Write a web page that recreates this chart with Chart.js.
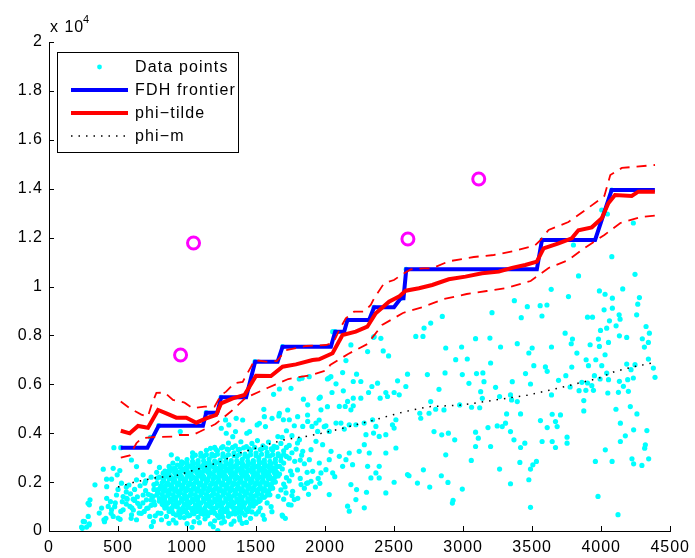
<!DOCTYPE html>
<html>
<head>
<meta charset="utf-8">
<script src="https://cdn.jsdelivr.net/npm/chart.js@4.4.1/dist/chart.umd.min.js"></script>
<style>
  body { margin: 0; background: #fff; }
</style>
</head>
<body>
<canvas id="frontier" width="695" height="558"></canvas>
<script>
// axis ticks
var xTicks = [0, 500, 1000, 1500, 2000, 2500, 3000, 3500, 4000, 4500];
var yTicks = [0, 2000, 4000, 6000, 8000, 10000, 12000, 14000, 16000, 18000, 20000];
var legendLabels = ['Data points', 'FDH frontier', 'phi\u2212tilde', 'phi\u2212m'];

// FDH frontier (step line)
var fdhX = [520, 713, 795, 1115, 1139, 1219, 1247, 1428, 1493, 1656, 1692, 2042, 2073, 2138, 2162, 2319, 2355, 2499, 2548, 2568, 2588, 3534, 3571, 3956, 4076, 4389];
var fdhY = [3407, 3407, 4307, 4307, 4838, 4838, 5468, 5468, 6924, 6924, 7538, 7538, 8151, 8151, 8630, 8630, 9149, 9149, 9517, 9517, 10703, 10703, 11902, 11902, 13947, 13947];

// phi-tilde estimate
var tildeX = [520, 585, 645, 717, 790, 850, 922, 995, 1067, 1139, 1211, 1247, 1331, 1416, 1452, 1500, 1608, 1692, 1789, 1909, 1957, 2054, 2126, 2222, 2306, 2367, 2463, 2535, 2584, 2680, 2776, 2896, 3017, 3137, 3258, 3354, 3450, 3534, 3583, 3691, 3787, 3835, 3932, 4004, 4052, 4100, 4221, 4269, 4389];
var tildeY = [4102, 3996, 4295, 4225, 4949, 4813, 4635, 4635, 4430, 4608, 4744, 5222, 5426, 5562, 5903, 6353, 6340, 6721, 6816, 6994, 7022, 7267, 8016, 8151, 8356, 8904, 9380, 9585, 9830, 9926, 10063, 10294, 10404, 10540, 10608, 10760, 10880, 11015, 11562, 11767, 11971, 12300, 12420, 12789, 13403, 13742, 13701, 13878, 13878];

// confidence bands (dashed)
var upperX = [520, 585, 669, 717, 745, 778, 838, 898, 982, 1042, 1127, 1199, 1247, 1283, 1343, 1403, 1464, 1488, 1572, 1650, 1717, 1861, 2006, 2060, 2110, 2150, 2210, 2282, 2331, 2355, 2427, 2499, 2560, 2620, 2716, 2776, 2896, 3077, 3222, 3366, 3518, 3560, 3619, 3763, 3886, 4023, 4066, 4150, 4250, 4390];
var upperY = [5300, 5020, 4760, 4680, 5200, 5650, 5660, 5360, 5250, 5020, 5085, 5085, 5560, 5700, 6040, 6100, 6720, 6990, 6926, 6950, 7400, 7567, 7607, 7700, 8300, 8700, 8970, 8970, 9243, 9517, 10130, 10266, 10500, 10700, 10744, 10744, 11030, 11207, 11289, 11450, 11670, 11900, 12311, 12638, 13129, 13700, 14560, 14850, 14900, 14970];
var lowerX = [520, 585, 633, 669, 780, 898, 946, 1042, 1091, 1206, 1322, 1423, 1582, 1733, 1900, 2015, 2037, 2167, 2306, 2413, 2564, 2709, 2860, 3026, 3171, 3315, 3489, 3619, 3763, 3879, 4023, 4139, 4290, 4390];
var lowerY = [3000, 3090, 3590, 3790, 3850, 3857, 3926, 3926, 4061, 4376, 4908, 5440, 5849, 6217, 6380, 6585, 6789, 7240, 7648, 8425, 8916, 9162, 9489, 9693, 9816, 9939, 10225, 10757, 11085, 11575, 12106, 12597, 12843, 12900];

// phi-m (dotted)
var phimX = [500, 620, 790, 910, 1031, 1151, 1259, 1375, 1495, 1613, 1717, 1849, 1977, 2097, 2217, 2338, 2458, 2576, 2752, 2993, 3234, 3474, 3715, 3859, 3980, 4096, 4216, 4336, 4390];
var phimY = [1800, 2000, 2195, 2250, 2454, 2658, 2875, 3178, 3382, 3587, 3750, 3857, 3996, 4159, 4335, 4511, 4703, 4880, 5085, 5153, 5358, 5562, 5877, 6080, 6244, 6516, 6693, 6830, 6900];

// outliers (magenta rings)
var outlierX = [953, 1047, 2600, 3113];
var outlierY = [7198, 11779, 11943, 14397];

// data points, pairs x,y
var pointsXY = [
  // left tail
  470,3410, 735,3830, 393,2527, 634,2636, 730,2840, 513,2473, 494,2296, 417,2119, 453,2119, 333,1888,
  525,1956, 634,2092, 682,2296, 694,1956, 783,2160, 827,2364, 839,1820, 297,1276, 292,1072, 248,392,
  236,161, 272,161, 292,297, 284,596, 381,936, 364,732, 398,460, 429,1004, 453,868, 465,596,
  501,528, 537,868, 566,1303, 586,1004, 598,664, 658,1004, 653,732, 634,460, 706,1276, 718,936,
  730,596, 742,188, 766,1072, 790,732, 803,1276, 815,460, 839,936, 863,1548, 851,596,
  241,110, 257,380, 290,245, 283,1133, 402,380, 412,519, 418,1337, 418,1812, 450,724, 489,1472,
  476,994, 515,478, 531,1199, 579,1881, 563,1337, 595,519, 611,859, 643,1133, 669,724, 682,1472,
  708,928, 740,1268, 756,380, 788,1540, 811,724, 869,315,
  537,1412, 590,1520, 754,1412, 778,1684, 831,1208, 445,1200, 620,1250, 700,1650, 560,1800, 480,1150, 760,1900,
  597,2904, 465,2564, 886,3114, 898,2774, 869,2475,
  520,800, 560,1100, 600,950, 640,1400, 680,1150, 720,1500, 500,1700, 560,1600, 620,1700, 660,1850,
  700,2050, 740,2200, 780,2400, 800,2600, 740,1050, 690,800, 770,620, 610,1300,
  // main cloud
  1200,3420, 1260,3450, 1300,3600, 1350,3480, 1390,3650, 1430,3450, 1470,3580, 1510,3700, 1550,3480, 1590,3640, 1630,3460, 1680,3580, 1720,3420,
  1040,3200, 1100,3180, 1140,3300, 1180,3150, 1220,3280, 1260,3160, 1300,3330, 1340,3200, 1380,3340, 1420,3150, 1460,3280, 1500,3190, 1540,3350, 1580,3220, 1620,3300, 1660,3160, 1700,3280, 1760,3200,
  930,2950, 1000,2920, 1040,3040, 1080,2880, 1120,3050, 1160,2940, 1200,3080, 1240,2900, 1280,3020, 1320,2880, 1360,3060, 1400,2930, 1440,3040, 1480,2880, 1520,3000, 1560,2900, 1600,3060, 1640,2930, 1680,3040, 1740,2980, 1820,2900,
  870,2640, 930,2700, 970,2800, 1010,2650, 1050,2760, 1090,2620, 1130,2780, 1170,2660, 1210,2800, 1250,2640, 1290,2750, 1330,2620, 1370,2790, 1410,2680, 1450,2760, 1490,2620, 1530,2800, 1570,2680, 1610,2760, 1650,2640, 1700,2780,
  840,2450, 890,2550, 930,2400, 970,2520, 1010,2380, 1050,2560, 1090,2420, 1130,2500, 1170,2360, 1210,2560, 1250,2440, 1290,2520, 1330,2380, 1370,2550, 1410,2420, 1450,2500, 1490,2370, 1530,2560, 1570,2440, 1610,2520, 1650,2400, 1690,2540, 1750,2450,
  800,2200, 850,2300, 890,2150, 930,2280, 970,2130, 1010,2300, 1050,2180, 1090,2260, 1130,2120, 1170,2320, 1210,2200, 1250,2280, 1290,2140, 1330,2300, 1370,2180, 1410,2260, 1450,2120, 1490,2300, 1530,2200, 1570,2280, 1610,2150, 1660,2250, 1720,2180,
  780,1950, 830,2050, 870,1900, 910,2020, 950,1880, 990,2060, 1030,1920, 1070,2000, 1110,1870, 1150,2080, 1190,1950, 1230,2030, 1270,1890, 1310,2050, 1350,1930, 1390,2010, 1430,1870, 1470,2060, 1510,1950, 1550,2020, 1590,1900, 1640,2000, 1700,1920,
  760,1700, 810,1800, 850,1650, 890,1780, 930,1620, 970,1800, 1010,1680, 1050,1760, 1090,1630, 1130,1820, 1170,1700, 1210,1780, 1250,1640, 1290,1800, 1330,1680, 1370,1760, 1410,1620, 1450,1800, 1490,1700, 1530,1760, 1570,1640, 1620,1750, 1680,1680,
  740,1450, 790,1550, 830,1400, 870,1520, 910,1380, 950,1560, 990,1420, 1030,1500, 1070,1370, 1110,1560, 1150,1440, 1190,1520, 1230,1380, 1270,1550, 1310,1420, 1350,1500, 1390,1370, 1430,1540, 1470,1440, 1510,1500, 1550,1380, 1600,1480, 1660,1420,
  760,1200, 810,1300, 850,1150, 890,1270, 930,1130, 970,1300, 1010,1180, 1050,1260, 1090,1120, 1130,1310, 1170,1190, 1210,1270, 1250,1130, 1290,1300, 1330,1170, 1370,1250, 1410,1120, 1450,1290, 1490,1200, 1530,1260, 1580,1150,
  830,1050, 870,900, 910,1020, 950,880, 990,1060, 1030,920, 1070,1000, 1110,870, 1150,1050, 1190,940, 1230,1020, 1270,880, 1310,1050, 1350,930, 1390,1000, 1430,870, 1480,1020, 1530,940,
  870,800, 920,650, 970,780, 1020,640, 1070,800, 1120,680, 1170,760, 1220,630, 1270,790, 1320,700, 1370,760, 1420,650, 1470,780,
  900,450, 980,550, 1050,380, 1130,500, 1200,420, 1260,560, 1340,400, 1460,520, 1560,480,
  // cloud, in-between rows
  1170,3380, 1210,3330, 1250,3400, 1290,3350, 1330,3420, 1370,3330, 1410,3400, 1450,3360, 1490,3420, 1530,3330, 1570,3400, 1610,3360, 1650,3420,
  1060,3100, 1100,3060, 1140,3120, 1180,3070, 1220,3140, 1260,3060, 1300,3120, 1340,3080, 1380,3140, 1420,3060, 1460,3120, 1500,3080, 1540,3140, 1580,3070, 1620,3120, 1660,3080, 1700,3140,
  960,2830, 1000,2780, 1040,2850, 1080,2790, 1120,2870, 1160,2810, 1200,2860, 1240,2780, 1280,2850, 1320,2800, 1360,2870, 1400,2790, 1440,2860, 1480,2810, 1520,2870, 1560,2790, 1600,2850, 1640,2800, 1680,2870,
  910,2560, 950,2620, 990,2570, 1030,2640, 1070,2560, 1110,2620, 1150,2570, 1190,2640, 1230,2560, 1270,2620, 1310,2580, 1350,2640, 1390,2560, 1430,2620, 1470,2580, 1510,2640, 1550,2560, 1590,2620, 1630,2580, 1670,2640,
  870,2330, 910,2370, 950,2320, 990,2390, 1030,2330, 1070,2380, 1110,2320, 1150,2400, 1190,2330, 1230,2380, 1270,2320, 1310,2390, 1350,2330, 1390,2380, 1430,2320, 1470,2400, 1510,2330, 1550,2380, 1590,2320, 1630,2390, 1670,2330,
  830,2090, 870,2130, 910,2080, 950,2140, 990,2090, 1030,2130, 1070,2070, 1110,2140, 1150,2090, 1190,2130, 1230,2080, 1270,2140, 1310,2090, 1350,2130, 1390,2080, 1430,2140, 1470,2090, 1510,2130, 1550,2080, 1590,2140, 1630,2090,
  810,1840, 850,1880, 890,1830, 930,1890, 970,1840, 1010,1880, 1050,1820, 1090,1890, 1130,1840, 1170,1880, 1210,1830, 1250,1890, 1290,1840, 1330,1880, 1370,1830, 1410,1890, 1450,1840, 1490,1880, 1530,1830, 1570,1890, 1610,1840,
  790,1590, 830,1630, 870,1580, 910,1640, 950,1590, 990,1630, 1030,1570, 1070,1640, 1110,1590, 1150,1630, 1190,1580, 1230,1640, 1270,1590, 1310,1630, 1350,1580, 1390,1640, 1430,1590, 1470,1630, 1510,1580, 1550,1640, 1590,1590,
  800,1330, 840,1370, 880,1320, 920,1380, 960,1330, 1000,1370, 1040,1310, 1080,1380, 1120,1330, 1160,1370, 1200,1320, 1240,1380, 1280,1330, 1320,1370, 1360,1320, 1400,1380, 1440,1330, 1480,1370, 1520,1320, 1560,1380,
  820,1090, 860,1130, 900,1080, 940,1140, 980,1090, 1020,1130, 1060,1070, 1100,1140, 1140,1090, 1180,1130, 1220,1080, 1260,1140, 1300,1090, 1340,1130, 1380,1080, 1420,1140, 1460,1090, 1500,1130,
  890,830, 940,780, 990,860, 1040,800, 1090,850, 1140,790, 1190,860, 1240,800, 1290,850, 1340,800, 1390,860, 1440,800, 1500,700, 1550,640,
  950,560, 1010,620, 1080,560, 1150,620, 1230,550, 1300,600, 1380,560,
  920,330, 1000,300, 1090,340, 1170,290, 1250,330, 1320,280, 1430,350,
  // cloud core, third pass
  960,2720, 1000,2700, 1040,2730, 1080,2690, 1120,2720, 1160,2710, 1200,2740, 1240,2700, 1280,2720, 1320,2690, 1360,2730, 1400,2710, 1440,2700, 1480,2740, 1520,2700, 1560,2720, 1600,2700,
  880,2470, 920,2490, 960,2460, 1000,2500, 1040,2470, 1080,2490, 1120,2460, 1160,2500, 1200,2470, 1240,2490, 1280,2460, 1320,2500, 1360,2470, 1400,2490, 1440,2460, 1480,2500, 1520,2470, 1560,2490, 1600,2460, 1640,2480,
  840,2230, 880,2210, 920,2240, 960,2220, 1000,2230, 1040,2210, 1080,2240, 1120,2220, 1160,2230, 1200,2210, 1240,2240, 1280,2220, 1320,2230, 1360,2210, 1400,2240, 1440,2220, 1480,2230, 1520,2210, 1560,2240, 1600,2220, 1640,2230,
  820,1980, 860,1960, 900,1990, 940,1970, 980,1980, 1020,1960, 1060,1990, 1100,1970, 1140,1980, 1180,1960, 1220,1990, 1260,1970, 1300,1980, 1340,1960, 1380,1990, 1420,1970, 1460,1980, 1500,1960, 1540,1990, 1580,1970, 1620,1980,
  800,1720, 840,1740, 880,1710, 920,1730, 960,1720, 1000,1740, 1040,1710, 1080,1730, 1120,1720, 1160,1740, 1200,1710, 1240,1730, 1280,1720, 1320,1740, 1360,1710, 1400,1730, 1440,1720, 1480,1740, 1520,1710, 1560,1730, 1600,1720,
  780,1470, 820,1490, 860,1460, 900,1480, 940,1470, 980,1490, 1020,1460, 1060,1480, 1100,1470, 1140,1490, 1180,1460, 1220,1480, 1260,1470, 1300,1490, 1340,1460, 1380,1480, 1420,1470, 1460,1490, 1500,1460, 1540,1480, 1580,1470,
  800,1220, 840,1240, 880,1210, 920,1230, 960,1220, 1000,1240, 1040,1210, 1080,1230, 1120,1220, 1160,1240, 1200,1210, 1240,1230, 1280,1220, 1320,1240, 1360,1210, 1400,1230, 1440,1220, 1480,1240, 1520,1210,
  850,970, 890,950, 930,980, 970,960, 1010,970, 1050,950, 1090,980, 1130,960, 1170,970, 1210,950, 1250,980, 1290,960, 1330,970, 1370,950, 1410,980, 1450,960,
  900,720, 950,700, 1000,730, 1050,710, 1100,720, 1150,700, 1200,730, 1250,710, 1300,720, 1350,700, 1400,730,
  1036,151, 1223,12, 1190,176, 1271,380, 1383,450, 1400,315, 1518,790, 1615,790, 1609,994, 1689,654,
  1712,519, 1754,1063, 1802,1337, 1866,1950, 1962,1950,
  // above the cloud
  1556,4977, 1665,4705, 1508,4338, 1568,4270, 1453,4066, 1433,3998, 1279,4542, 1303,4338, 1351,4066, 1284,3998,
  1248,4202, 1658,3862, 1689,3835, 951,4066, 1356,4609, 1403,4540, 1331,3857, 1524,4405, 1560,4675, 1616,4609,
  1669,4813, 1669,5808, 1627,5591, 1753,5836, 1813,6217, 1885,6311, 2017,6217, 1729,4949, 1801,4675, 1873,4744,
  1957,4540, 1994,4266, 2017,5085, 1957,5427,
  520,3407, 795,4307, 1139,4838, 1247,5468, 1493,6924, 1692,7538, 2073,8151, 2162,8630, 2355,9149, 2548,9517,
  2588,10703, 3571,11902, 4076,13947,
  // middle
  2055,8154, 2187,7610, 2351,7923, 2404,7882, 2308,7338, 2421,7365, 2460,7161, 2151,6971, 2127,6481, 2228,6413,
  2026,6250, 1833,6250, 2079,6019, 2132,5733, 2050,5665, 2204,6114, 2259,6114, 2315,5665, 2339,5910, 2380,6046,
  2440,5665, 2500,5665, 2525,6141, 2537,5570, 2597,6413, 2585,5910, 2399,5434, 2452,5502, 2259,5434, 2204,5434,
  2163,5298, 2146,5094, 2204,5121, 2187,4958, 2103,5094, 1970,4958, 1965,5475, 1843,5393, 1874,5162, 1698,4550,
  1741,4550, 1777,4305, 1838,4278, 1905,4278, 1874,4482, 1934,4414, 1946,4074, 2006,4305, 2030,4074, 2079,4414,
  2115,4414, 2139,4169, 2175,4346, 2223,4346, 2283,4414, 2344,4550, 2368,4278, 2488,4346, 2513,4550, 2500,4210,
  2351,4006, 2392,3870, 2440,3938, 2296,3938, 2284,3530, 2247,3258, 2320,3190, 2175,3190, 2151,2918, 2199,2714,
  2103,3054, 2127,2646, 2043,3258, 2030,2918, 2006,2510, 2055,2374, 2070,2220, 1970,2374, 1910,2442, 1958,2782,
  1886,2918, 1898,3326, 1934,3666, 1982,3530, 1814,3734, 1838,3258, 2308,2646, 2368,2374, 2392,2646, 2332,2170,
  2392,2170, 2440,3190, 2513,3394, 2500,1993, 2597,2306, 2187,1898, 2228,1694, 2300,1585, 2440,1558, 2030,1490,
  2163,1014, 2175,810, 2284,946, 2223,1286, 1777,1286, 1736,1082, 1693,606, 1874,1966, 1826,1898, 1898,2034,
  1765,1626, 1717,1558,
  1720,4100, 1760,3900, 1800,3600, 1740,3500, 1790,3350, 1830,3100, 1720,3050, 1780,2850, 1850,2750, 1800,2500,
  1760,2300, 1820,2150, 1740,2050, 1850,1750, 1710,1800, 1760,1450, 1700,1300, 1870,2400, 1880,1500, 1930,1800, 1950,2150,
  // right, lower part
  2686,4816, 2693,4612, 2753,4816, 2765,5292, 2801,4979, 2825,5795, 2861,4952, 2975,5156, 3042,6040, 3061,5061,
  3127,5700, 3139,5428, 3120,5040, 3151,6108, 3235,5877, 3264,5496, 3343,5564, 3351,5360, 3392,5292, 3356,6108,
  3488,6013, 3315,4789, 3416,4789, 3247,4299, 3283,4272, 3343,4068, 3307,4408, 3180,4231, 3090,4041, 3110,3796,
  3090,3456, 3199,3456, 3368,3728, 3416,3415, 3447,3592, 3560,4517, 3609,4231, 3645,4775, 3669,4476, 3681,4272,
  3572,3660, 3645,3660, 3753,3837, 3753,3592, 3669,3415, 3640,5564, 4107,4979, 4139,4408, 4211,5088, 4259,4789,
  4235,4136, 4331,4109, 4175,3891, 4139,3660, 4320,3524, 4315,3388, 4223,2953, 4235,2749, 4295,2681, 4344,2953,
  4030,3320, 4079,2844, 3958,2844, 3977,1416, 4122,668, 2789,4068, 2845,3932, 2893,4000, 2939,3728, 2874,3116,
  2712,2504, 2608,2259, 2669,1960, 2758,1797, 2842,2259, 2890,1987, 2927,1253, 2922,1144, 2994,1715, 3059,2885,
  3264,2531, 3343,1933, 3411,2803, 3476,2096, 3488,2531, 3505,2708, 3531,2844, 3488,967, 3874,5333, 3874,4911, 3705,4748,
  // right, upper part
  4077,11221, 3836,10432, 4245,10500, 3763,9589, 3987,9820, 4028,9684, 4156,9902, 4081,9521, 4277,9548, 4265,9276,
  4021,9045, 4081,9113, 4130,8841, 4137,8664, 4257,8841, 3901,8746, 3937,8746, 4060,8596, 4108,8392, 4040,8297,
  3995,8202, 4325,8365, 4349,8093, 3739,8093, 3792,7848, 3783,7658, 3980,7848, 4053,7712, 4132,7984, 4185,7916,
  4298,7862, 4342,7712, 4313,7522, 3920,7617, 3987,7549, 3824,7277, 4028,7209, 3891,7005, 3961,7005, 4342,7032,
  3908,6760, 4004,6760, 3787,6706, 4185,6828, 4245,6801, 4378,6665, 4216,6597, 4040,6461, 3744,6352, 3951,6352,
  3992,6216, 4390,6284, 4053,6189, 4132,6121, 4192,6189, 4233,6257, 4161,5917, 4197,5713, 3691,6162, 3775,5890,
  3860,6080, 3901,6053, 3932,5944, 3840,5740, 3889,5754, 3944,5754, 4048,5645, 4125,5672,
  3371,9419, 3465,9174, 3558,9215, 3607,9243, 3421,8724, 3571,8794, 3209,8928, 3638,9885, 4004,13129, 4045,12965,
  4233,12597, 3799,11697,
  2849,8776, 2765,8504, 2717,8300, 2657,7960, 2709,7960, 3090,7865, 3194,7892, 2989,7525, 2874,7484, 3271,7525,
  3392,7661, 3500,7484, 3640,7525, 2946,7008, 3030,7035, 3199,6872, 3476,7280, 3512,6763, 3596,6709, 3609,6532,
  3452,6437, 3097,6437, 3143,6464, 2994,6396, 2869,6464, 2741,6396, 2042,6311, 2355,7947
];

var FONT = '"Liberation Sans", Arial, Helvetica, sans-serif';

function toXY(xs, ys) {
  return xs.map(function (x, i) { return { x: x, y: ys[i] }; });
}

var cloud = [];
for (var i = 0; i < pointsXY.length; i += 2) {
  cloud.push({ x: pointsXY[i], y: pointsXY[i + 1] });
}

// inward ticks, exponent label and a matlab-like legend box
var matlabBits = {
  id: 'matlabBits',
  beforeDraw: function (chart) {
    chart.ctx.letterSpacing = '1px';
  },
  afterDraw: function (chart) {
    var ctx = chart.ctx, a = chart.chartArea;
    var sx = chart.scales.x, sy = chart.scales.y;
    ctx.save();
    ctx.setLineDash([]);
    ctx.strokeStyle = '#000';
    ctx.lineWidth = 1;
    ctx.beginPath();
    xTicks.forEach(function (v) {
      var p = Math.round(sx.getPixelForValue(v)) + 0.5;
      ctx.moveTo(p, a.bottom);
      ctx.lineTo(p, a.bottom - 5);
    });
    yTicks.forEach(function (v) {
      var p = Math.round(sy.getPixelForValue(v)) + 0.5;
      ctx.moveTo(a.left, p);
      ctx.lineTo(a.left + 5, p);
    });
    ctx.stroke();

    ctx.fillStyle = '#000';
    ctx.textAlign = 'left';
    ctx.textBaseline = 'alphabetic';
    ctx.letterSpacing = '1px';
    ctx.font = '16px ' + FONT;
    ctx.fillText('x 10', a.left + 1, 32);
    ctx.font = '11px ' + FONT;
    ctx.fillText('4', a.left + 34, 23);

    // legend
    var lx = 57.5, ly = 52.5, lw = 181, lh = 100;
    ctx.fillStyle = '#fff';
    ctx.fillRect(lx, ly, lw, lh);
    ctx.strokeRect(lx, ly, lw, lh);
    var rows = [67, 90, 113, 136];

    ctx.fillStyle = '#00ffff';
    ctx.beginPath();
    ctx.arc(99.5, rows[0], 2.4, 0, Math.PI * 2);
    ctx.fill();

    ctx.lineWidth = 4;
    ctx.strokeStyle = '#0000ff';
    ctx.beginPath(); ctx.moveTo(71, rows[1]); ctx.lineTo(128, rows[1]); ctx.stroke();
    ctx.strokeStyle = '#ff0000';
    ctx.beginPath(); ctx.moveTo(71, rows[2]); ctx.lineTo(128, rows[2]); ctx.stroke();
    ctx.lineWidth = 1.5;
    ctx.strokeStyle = '#000';
    ctx.setLineDash([1.5, 6]);
    ctx.beginPath(); ctx.moveTo(71, rows[3]); ctx.lineTo(128, rows[3]); ctx.stroke();
    ctx.setLineDash([]);

    ctx.fillStyle = '#000';
    ctx.font = '16px ' + FONT;
    ctx.letterSpacing = '1.15px';
    ctx.textBaseline = 'middle';
    legendLabels.forEach(function (t, k) {
      ctx.fillText(t, 135, rows[k] + 1);
    });
    ctx.restore();
  }
};

new Chart(document.getElementById('frontier'), {
  type: 'scatter',
  data: {
    datasets: [
      { label: legendLabels[0], data: cloud, showLine: false, pointRadius: 2.6, pointBorderWidth: 0,
        pointBackgroundColor: '#00ffff', order: 6 },
      { label: legendLabels[1], data: toXY(fdhX, fdhY), showLine: true, borderColor: '#0000ff',
        borderWidth: 4, pointRadius: 0, tension: 0, order: 5 },
      { label: legendLabels[2], data: toXY(tildeX, tildeY), showLine: true, borderColor: '#ff0000',
        borderWidth: 4, pointRadius: 0, tension: 0, order: 4 },
      { label: 'upper', data: toXY(upperX, upperY), showLine: true, borderColor: '#ff0000',
        borderWidth: 1.8, borderDash: [10, 7], pointRadius: 0, tension: 0, order: 3 },
      { label: 'lower', data: toXY(lowerX, lowerY), showLine: true, borderColor: '#ff0000',
        borderWidth: 1.8, borderDash: [10, 7], pointRadius: 0, tension: 0, order: 3 },
      { label: legendLabels[3], data: toXY(phimX, phimY), showLine: true, borderColor: '#000',
        borderWidth: 1.5, borderDash: [1.5, 6], pointRadius: 0, tension: 0, order: 2 },
      { label: 'outliers', data: toXY(outlierX, outlierY), showLine: false, pointRadius: 6,
        pointBorderWidth: 3, pointBorderColor: '#ff00ff', pointBackgroundColor: 'rgba(0,0,0,0)', order: 1 }
    ]
  },
  options: {
    responsive: false,
    animation: false,
    layout: { padding: { top: 42, right: 23, left: 0, bottom: 0 } },
    plugins: { legend: { display: false }, tooltip: { enabled: false } },
    scales: {
      x: {
        type: 'linear', min: 0, max: 4500,
        afterFit: function (s) { s.height = 27; },
        afterBuildTicks: function (s) { s.ticks = xTicks.map(function (v) { return { value: v }; }); },
        grid: { display: false, drawTicks: false },
        border: { display: true, color: '#000', width: 1 },
        ticks: {
          autoSkip: false, maxRotation: 0, padding: 7, color: '#000', font: { family: FONT, size: 16 },
          callback: function (v) { return String(v); }
        }
      },
      y: {
        type: 'linear', min: 0, max: 20000,
        afterFit: function (s) { s.width = 49; },
        afterBuildTicks: function (s) { s.ticks = yTicks.map(function (v) { return { value: v }; }); },
        grid: { display: false, drawTicks: false },
        border: { display: true, color: '#000', width: 1 },
        ticks: {
          padding: 6, color: '#000', font: { family: FONT, size: 16 },
          callback: function (v) { return String(+(v / 10000).toFixed(1)); }
        }
      }
    }
  },
  plugins: [matlabBits]
});
</script>
</body>
</html>
